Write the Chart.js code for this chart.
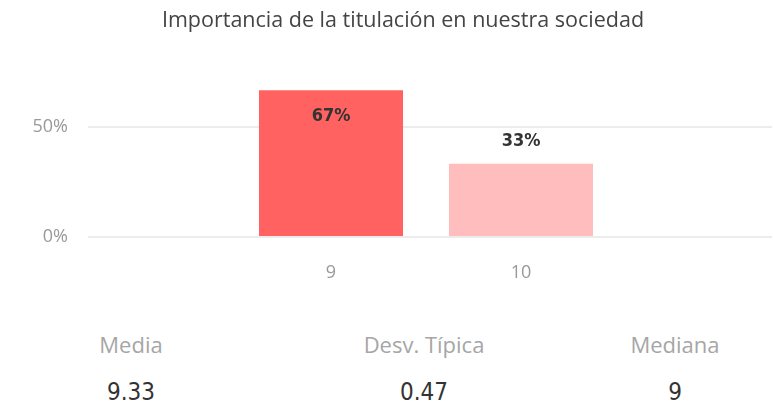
<!DOCTYPE html>
<html>
<head>
<meta charset="utf-8">
<script src="https://cdn.jsdelivr.net/npm/chart.js@4.4.1/dist/chart.umd.min.js"></script>
<style>
  body { margin: 0; background: #fff; width: 773px; height: 411px; overflow: hidden; position: relative; }
  #chart-box { position: absolute; left: 0; top: 0; width: 773px; height: 300px; }
  #title { position: absolute; left: 0; top: 4px; width: 806px; text-align: center; line-height: 30px;
           font-family: "Open Sans", sans-serif; font-size: 21.5px; color: #444; white-space: nowrap; }
  .stat { position: absolute; width: 200px; text-align: center; white-space: nowrap; }
  .stat-label { font-family: "Open Sans", sans-serif; font-size: 22px; color: #a6a6a6; top: 329px; line-height: 30px; }
  .stat-value { font-family: "DejaVu Sans Condensed", "Liberation Sans Narrow", Roboto, sans-serif; font-size: 24px; color: #333; top: 377px; line-height: 30px; }
</style>
</head>
<body>
<div id="chart-box"><canvas id="bar-chart"></canvas></div>
<div id="title"></div>
<div id="stats"></div>

<script>
// Chart data
const chartTitle = 'Importancia de la titulación en nuestra sociedad';
const scores = [9, 10];
const percentages = [66.67, 33.33];
const barColors = ['#ff6260', '#ffbdbd'];
const yTicks = [0, 50];

// Summary cards under the chart
const statLabels = ['Media', 'Desv. Típica', 'Mediana'];
const statValues = ['9.33', '0.47', '9'];
const statCenters = [131, 424, 675];

const labelFont = '"DejaVu Sans Condensed", "Liberation Sans Narrow", Roboto, sans-serif';

// Draws the % labels: inside the bar when there is no room above it
const barLabels = {
  id: 'barLabels',
  afterDatasetsDraw(chart) {
    const ctx = chart.ctx;
    const meta = chart.getDatasetMeta(0);
    ctx.save();
    ctx.font = 'bold 18px ' + labelFont;
    ctx.fillStyle = '#333';
    ctx.textAlign = 'center';
    ctx.textBaseline = 'middle';
    meta.data.forEach((bar, i) => {
      const text = Math.round(percentages[i]) + '%';
      let y = bar.y - 22;
      if (y - 10 < chart.chartArea.top) y = bar.y + 26;
      ctx.fillText(text, bar.x, y);
    });
    ctx.restore();
  }
};

function renderChart() {
  const ctx = document.getElementById('bar-chart').getContext('2d');
  new Chart(ctx, {
    type: 'bar',
    data: {
      datasets: [{
        data: scores.map((s, i) => ({ x: s, y: percentages[i] })),
        backgroundColor: barColors,
        borderWidth: 0,
        categoryPercentage: 1,
        barPercentage: 0.758
      }]
    },
    options: {
      responsive: true,
      maintainAspectRatio: false,
      animation: false,
      layout: { padding: { left: 0, right: 1, top: 83, bottom: 0 } },
      plugins: {
        legend: { display: false },
        tooltip: { enabled: false },
        title: { display: false }
      },
      scales: {
        x: {
          type: 'linear',
          offset: false,
          min: 7.721,
          max: 11.321,
          afterBuildTicks: axis => { axis.ticks = scores.map(v => ({ value: v })); },
          grid: { display: false },
          border: { display: false },
          ticks: {
            color: '#999',
            padding: 17,
            font: { family: '"Open Sans", sans-serif', size: 18 },
            callback: v => String(v)
          },
          afterFit: axis => { axis.height = 63; }
        },
        y: {
          min: 0,
          max: 70,
          afterBuildTicks: axis => { axis.ticks = yTicks.map(v => ({ value: v })); },
          grid: { color: '#ececec', lineWidth: 2, drawTicks: false },
          border: { display: false },
          ticks: {
            color: '#999',
            padding: 20,
            font: { family: '"Open Sans", sans-serif', size: 18 },
            callback: v => v + '%'
          },
          afterFit: axis => { axis.width = 88; }
        }
      }
    },
    plugins: [barLabels]
  });
}

function renderStats() {
  const box = document.getElementById('stats');
  statLabels.forEach((label, i) => {
    const l = document.createElement('div');
    l.className = 'stat stat-label';
    l.style.left = (statCenters[i] - 100) + 'px';
    l.textContent = label;
    box.appendChild(l);
    const v = document.createElement('div');
    v.className = 'stat stat-value';
    v.style.left = (statCenters[i] - 100) + 'px';
    v.textContent = statValues[i];
    box.appendChild(v);
  });
}

document.getElementById('title').textContent = chartTitle;
renderChart();
renderStats();
</script>
</body>
</html>
